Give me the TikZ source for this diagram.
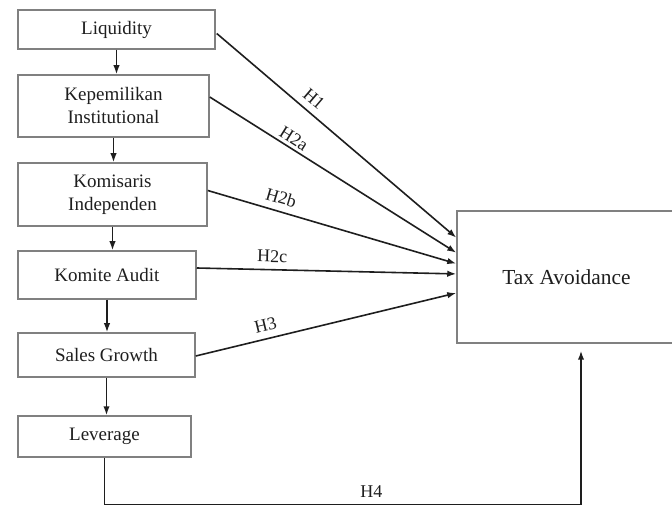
\documentclass[tikz,border=0pt]{standalone}
\usepackage{fontspec}
\setmainfont{Liberation Serif}
\usepackage{tikz}
\usetikzlibrary{arrows.meta, positioning, calc}
\definecolor{boxgray}{RGB}{128, 128, 128}
\definecolor{inkdark}{RGB}{30, 30, 30}

\begin{document}
\begin{tikzpicture}[x=0.5pt, y=-0.5pt, >={Latex[length=4.5pt, width=3.2pt]},
    varbox/.style={draw=boxgray, line width=0.75pt, text=inkdark, align=center,
        font=\fontsize{9.5}{11.5}\selectfont, inner sep=0pt},
    hyp/.style={->, draw=inkdark, line width=0.8pt},
    hlabel/.style={sloped, above, font=\fontsize{9}{10}\selectfont, text=inkdark}]
    \useasboundingbox (0,0) rectangle (672,506);

    \node[varbox, minimum width=98.5pt, minimum height=19.5pt] (liq) at (116.5,29.5) {Liquidity};
    \node[varbox, minimum width=95.5pt, minimum height=31pt] (kep) at (113.5,106) {Kepemilikan\\Institutional};
    \node[varbox, minimum width=94.5pt, minimum height=31.5pt] (kom) at (112.5,194.5) {Komisaris\\Independen};
    \node[varbox, minimum width=89pt, minimum height=24pt] (audit) at (107,275) {Komite Audit};
    \node[varbox, minimum width=88.5pt, minimum height=22pt] (sales) at (106.5,355) {Sales Growth};
    \node[varbox, minimum width=86.5pt, minimum height=20.5pt] (lev) at (104.5,436.5) {Leverage};

    \node[varbox, minimum width=109.5pt, minimum height=66pt, font=\fontsize{10.7}{12}\selectfont] (tax) at (566.5,277) {Tax Avoidance};

    % chain between the variables
    \draw[hyp] (liq.south) -- (liq.south |- kep.north);
    \draw[hyp] (kep.south) -- (kep.south |- kom.north);
    \draw[hyp] (kom.south) -- (kom.south |- audit.north);
    \draw[hyp] (audit.south) -- (audit.south |- sales.north);
    \draw[hyp] (sales.south) -- (sales.south |- lev.north);

    % hypotheses
    \draw[hyp] ($(liq.east)+(1,4)$) -- node[hlabel, pos=0.37] {H1} ($(tax.north west)!0.205!(tax.south west)$);
    \draw[hyp] ($(kep.east)+(0,-9)$) -- node[hlabel, pos=0.32, inner sep=1.5pt] {H2a} ($(tax.north west)!0.318!(tax.south west)$);
    \draw[hyp] ($(kom.east)+(0,-4)$) -- node[hlabel, pos=0.28] {H2b} ($(tax.north west)!0.40!(tax.south west)$);
    \draw[hyp] ($(audit.east)+(0,-7)$) -- node[hlabel, pos=0.29] {H2c} ($(tax.north west)!0.477!(tax.south west)$);
    \draw[hyp] ($(sales.east)+(0,1)$) -- node[hlabel, pos=0.28] {H3} ($(tax.north west)!0.62!(tax.south west)$);

    \coordinate (h4turn) at (581,504.5);
    \draw[hyp] (lev.south) |- node[pos=0.78, above, font=\fontsize{9}{10}\selectfont, text=inkdark] {H4} (h4turn)
        -- ([yshift=-3.5pt]tax.south -| h4turn);
\end{tikzpicture}
\end{document}
